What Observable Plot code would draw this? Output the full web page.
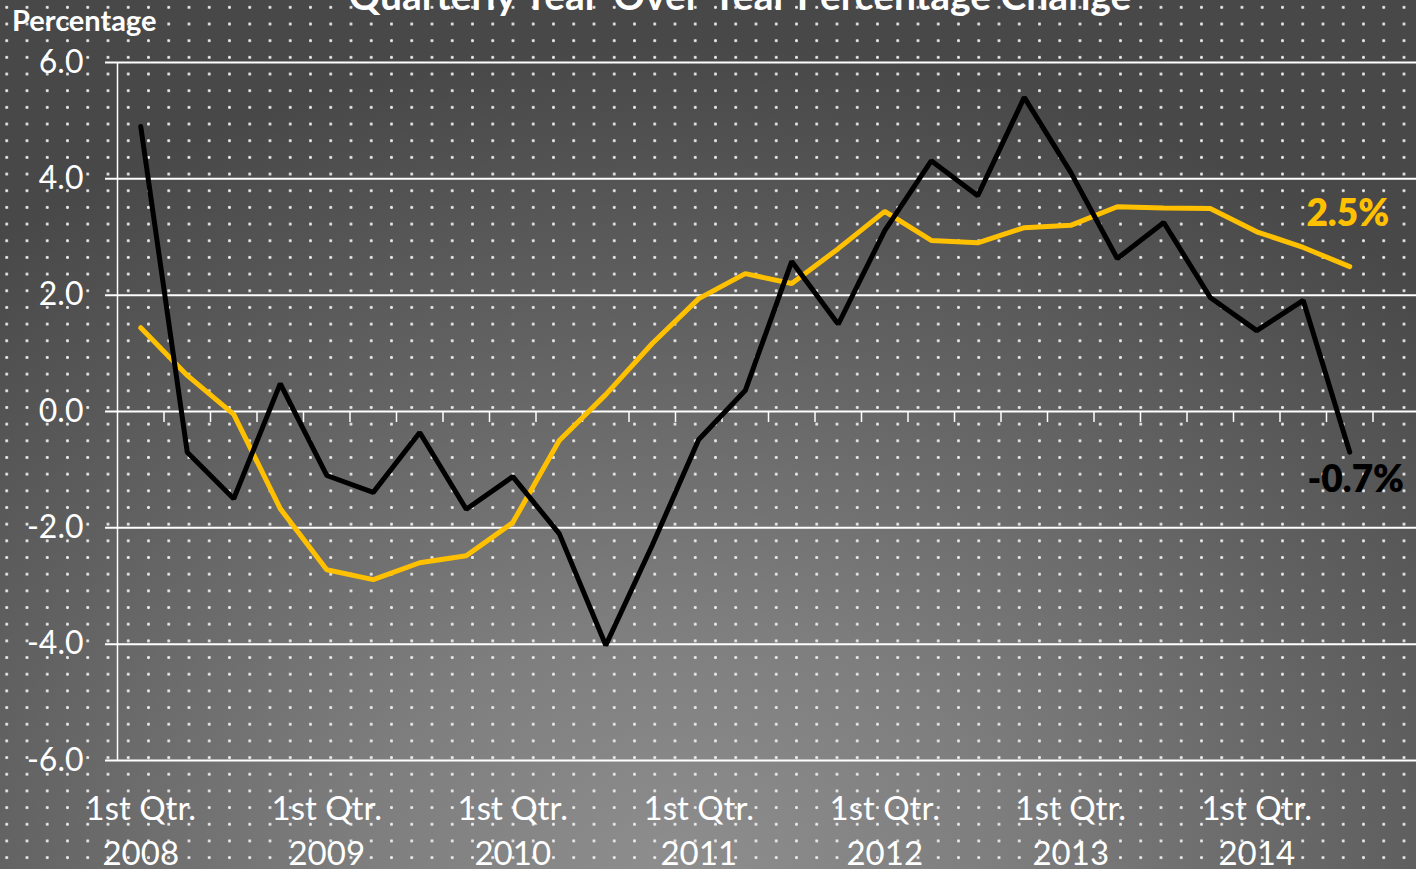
<!DOCTYPE html>
<html>
<head>
<meta charset="utf-8">
<script src="https://cdn.jsdelivr.net/npm/d3@7"></script>
<script src="https://cdn.jsdelivr.net/npm/@observablehq/plot@0.6"></script>
<style>
  html, body { margin: 0; padding: 0; }
  body {
    width: 1416px; height: 869px; overflow: hidden; position: relative;
    font-family: Lato, "Open Sans", sans-serif;
    background-image:
      radial-gradient(circle, rgba(240,240,240,0.95) 1.2px, rgba(240,240,240,0) 1.8px),
      radial-gradient(ellipse 75% 95% at 48% 100%, #8e8e8e 0%, #7e7e7e 30%, #626262 65%, #484848 100%);
    background-size: 20.26px 16.68px, 100% 100%;
    background-position: -3.4px -1px, 0 0;
  }
  #title {
    position: absolute; left: 0; width: 1480px; top: -25px; text-align: center;
    color: white; font-weight: 700; font-size: 39px; line-height: 40px; white-space: nowrap;
  }
  #ylabel {
    position: absolute; left: 12px; top: 4px; color: white; font-weight: 700; font-size: 29px; line-height: 32px;
  }
  #chart { position: absolute; left: 0; top: 0; }
</style>
</head>
<body>
<div id="chart"></div>
<div id="title">Quarterly Year-Over-Year Percentage Change</div>
<div id="ylabel">Percentage</div>
<script>
// Quarters 2008 Q1 .. 2014 Q4 (category axis)
const years = [2008, 2009, 2010, 2011, 2012, 2013, 2014];
const quarters = years.flatMap(y => [1, 2, 3, 4].map(q => `${y} Q${q}`));

// Black series (2008 Q1 .. 2014 Q3)
const blackValues = [4.9, -0.7, -1.5, 0.48, -1.1, -1.39, -0.36, -1.68, -1.12, -2.1, -4.02, -2.3,
  -0.48, 0.36, 2.58, 1.5, 3.11, 4.31, 3.71, 5.4, 4.11, 2.63, 3.25, 1.96, 1.39, 1.91, -0.7];
// Yellow series (2008 Q1 .. 2014 Q3)
const yellowValues = [1.44, 0.62, -0.05, -1.67, -2.72, -2.89, -2.6, -2.48, -1.91, -0.5, 0.29, 1.17,
  1.94, 2.37, 2.2, 2.8, 3.44, 2.94, 2.9, 3.16, 3.2, 3.52, 3.5, 3.49, 3.09, 2.82, 2.49];

const yTicks = [-6, -4, -2, 0, 2, 4, 6];
const xTickLabels = years.map(y => `1st Qtr.\n${y}`);
const xTickIndex = years.map((y, i) => quarters.indexOf(`${y} Q1`));
const boundaries = quarters.slice(1).map((q, i) => i + 0.5);

const blackData = blackValues.map((v, i) => ({i, v}));
const yellowData = yellowValues.map((v, i) => ({i, v}));
const endLabels = [
  {i: yellowValues.length - 1, v: yellowValues[yellowValues.length - 1], label: "2.5%", color: "#FFC000", dx: -2, dy: -53},
  {i: blackValues.length - 1, v: blackValues[blackValues.length - 1], label: "-0.7%", color: "#000000", dx: 6, dy: 28}
];

const chart = Plot.plot({
  width: 1416,
  height: 869,
  marginTop: 62,
  marginBottom: 109,
  marginLeft: 117,
  marginRight: -3,
  style: {background: "transparent", fontFamily: "Lato, 'Open Sans', sans-serif", overflow: "visible"},
  x: {domain: [-0.5, quarters.length - 0.5], axis: null},
  y: {domain: [-6, 6], axis: null},
  marks: [
    Plot.ruleY(yTicks, {stroke: "white", strokeWidth: 2, insetLeft: -12}),
    Plot.ruleX([-0.5], {y1: -6, y2: 6, stroke: "white", strokeWidth: 1.5}),
    Plot.ruleX(boundaries, {y1: 0, y2: 0, insetBottom: -11, stroke: "white", strokeWidth: 1.5}),
    Plot.text(yTicks, {y: d => d, text: d => d.toFixed(1), frameAnchor: "left", textAnchor: "end", dx: -34,
      fill: "white", fontSize: 32}),
    Plot.text(xTickIndex, {x: d => d, text: (d, k) => xTickLabels[k], frameAnchor: "bottom", lineAnchor: "middle",
      dy: 68, lineHeight: 1.36, fill: "white", fontSize: 33}),
    Plot.line(yellowData, {x: "i", y: "v", stroke: "#FFC000", strokeWidth: 5, strokeLinejoin: "miter", strokeLinecap: "round"}),
    Plot.line(blackData, {x: "i", y: "v", stroke: "#000000", strokeWidth: 5, strokeLinejoin: "miter", strokeLinecap: "round"}),
    ...endLabels.map(e => Plot.text([e], {x: "i", y: "v", text: "label", fill: e.color, dx: e.dx, dy: e.dy,
      fontSize: 37, fontWeight: 800}))
  ]
});
document.getElementById("chart").appendChild(chart);
</script>
</body>
</html>
